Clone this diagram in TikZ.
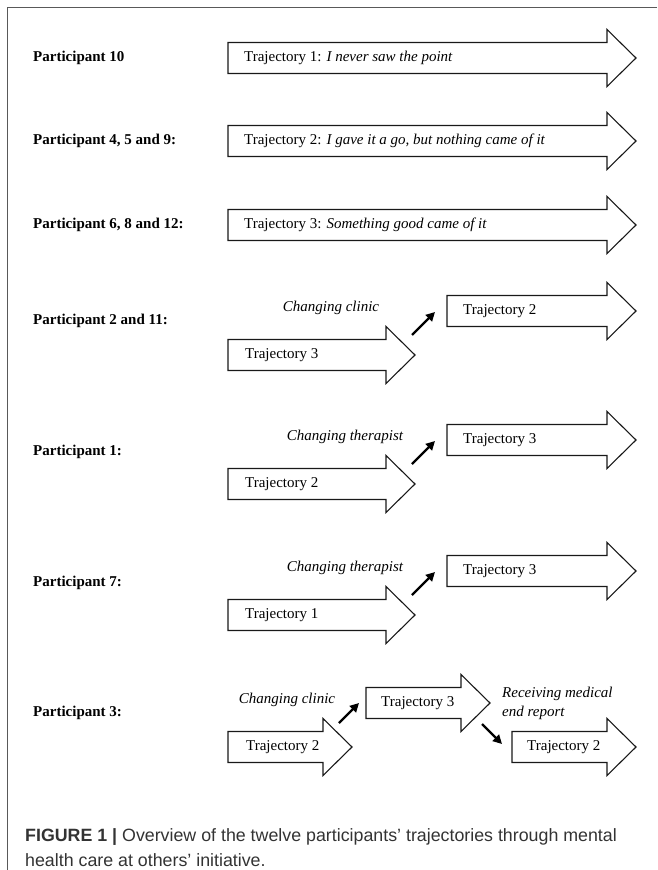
\documentclass[tikz,border=0pt]{standalone}
\usepackage{fontspec}
\setmainfont{Liberation Serif}
\newfontfamily\capfont{Liberation Sans}
\usetikzlibrary{arrows.meta}

\tikzset{
	outline/.style={draw=black!90, line width=1.1pt},
	partlabel/.style={anchor=west, inner sep=0pt, font=\fontsize{15}{18}\selectfont\bfseries},
	trajtext/.style={anchor=west, inner sep=0pt, font=\fontsize{15}{18}\selectfont},
	reason/.style={inner sep=0pt, font=\fontsize{15}{18}\selectfont\itshape},
	switcharrow/.style={line width=2.2pt, -{Triangle[length=9pt,width=9pt]}},
	capline/.style={anchor=base west, inner sep=0pt, text=black!80, font=\capfont\fontsize{17.8}{24}\selectfont},
}
% tail x, head base x, tip x, centre y
\newcommand\bigarrow[4]{%
	\draw[outline] (#1,#4-15.5) -- (#2,#4-15.5) -- (#2,#4-28.5) -- (#3,#4)
	-- (#2,#4+28.5) -- (#2,#4+15.5) -- (#1,#4+15.5) -- cycle;}

\begin{document}
\begin{tikzpicture}[x=1pt,y=-1pt]
	\useasboundingbox (0,0) rectangle (657,870);
	\draw[draw=black!65, line width=1.1pt] (657,7.5) -- (7.5,7.5) -- (7.5,870);
	% one trajectory
	\node[partlabel] (p10) at (33,58) {Participant 10};
	\bigarrow{228}{607}{636}{58}
	\node[trajtext] (t10) at (244,58) {Trajectory 1: \textit{I never saw the point}};
	\node[partlabel] (p459) at (33,141) {Participant 4, 5 and 9:};
	\bigarrow{228}{607}{636}{141}
	\node[trajtext] (t459) at (244,141) {Trajectory 2: \textit{I gave it a go, but nothing came of it}};
	\node[partlabel] (p6812) at (33,225) {Participant 6, 8 and 12:};
	\bigarrow{228}{607}{636}{225}
	\node[trajtext] (t6812) at (244,225) {Trajectory 3: \textit{Something good came of it}};
	% two trajectories
	\node[partlabel] (p211) at (33,321) {Participant 2 and 11:};
	\bigarrow{228}{386}{415}{355}
	\node[trajtext] (t211a) at (245,355) {Trajectory 3};
	\bigarrow{447}{607}{636}{311}
	\node[trajtext] (t211b) at (463,311) {Trajectory 2};
	\node[reason] (r211) at (331,308) {Changing clinic};
	\coordinate (s211) at (412,335);
	\coordinate (e211) at (435,312);
	\draw[switcharrow] (s211) -- (e211);
	\node[partlabel] (p1) at (33,452) {Participant 1:};
	\bigarrow{228}{386}{415}{484}
	\node[trajtext] (t1a) at (245,484) {Trajectory 2};
	\bigarrow{447}{607}{636}{440}
	\node[trajtext] (t1b) at (463,440) {Trajectory 3};
	\node[reason] (r1) at (345,437) {Changing therapist};
	\coordinate (s1) at (412,464);
	\coordinate (e1) at (435,441);
	\draw[switcharrow] (s1) -- (e1);
	\node[partlabel] (p7) at (33,583) {Participant 7:};
	\bigarrow{228}{386}{415}{615}
	\node[trajtext] (t7a) at (245,615) {Trajectory 1};
	\bigarrow{447}{607}{636}{571}
	\node[trajtext] (t7b) at (463,571) {Trajectory 3};
	\node[reason] (r7) at (345,568) {Changing therapist};
	\coordinate (s7) at (412,595);
	\coordinate (e7) at (435,572);
	\draw[switcharrow] (s7) -- (e7);
	% three trajectories
	\node[partlabel] (p3) at (33,713) {Participant 3:};
	\bigarrow{228}{323}{352}{747}
	\node[trajtext] (t3a) at (246,747) {Trajectory 2};
	\bigarrow{366}{461}{490}{703}
	\node[trajtext] (t3b) at (381,703) {Trajectory 3};
	\bigarrow{512}{607}{636}{747}
	\node[trajtext] (t3c) at (527,747) {Trajectory 2};
	\node[reason] (r3a) at (287,700) {Changing clinic};
	\node[reason, anchor=west] (r3b) at (502,694) {Receiving medical};
	\node[reason, anchor=west] (r3c) at (502,713) {end report};
	\coordinate (s3a) at (339,723);
	\coordinate (e3a) at (359,703);
	\draw[switcharrow] (s3a) -- (e3a);
	\coordinate (s3b) at (482,724);
	\coordinate (e3b) at (502,744);
	\draw[switcharrow] (s3b) -- (e3b);
	% caption
	\node[capline] (cap1) at (25,841) {\textbf{FIGURE 1 |} Overview of the twelve participants’ trajectories through mental};
	\node[capline] (cap2) at (25,866) {health care at others’ initiative.};
\end{tikzpicture}
\end{document}
